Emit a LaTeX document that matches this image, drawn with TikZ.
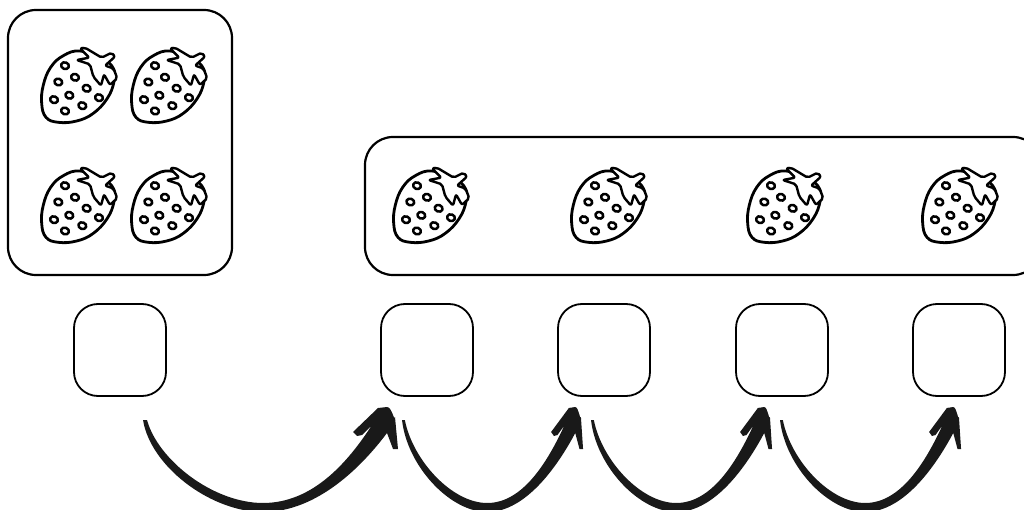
\documentclass[tikz,border=0pt]{standalone}
\usepackage{tikz}
\usetikzlibrary{calc}
\tikzset{
  crate/.style={draw,line width=2.2pt,rounded corners=28pt,inner sep=0pt,outer sep=0pt},
  tallybox/.style={draw,line width=1.8pt,rounded corners=24pt,inner sep=0pt,outer sep=0pt,minimum width=92pt,minimum height=92pt},
  strawberry/.pic={
    \begin{scope}[scale=1/3,line width=2.8pt,line join=round]
      \draw plot[smooth cycle,tension=0.7] coordinates {(150,48)(100,62)(62,97)(40,150)(35,205)(48,247)(85,262)(140,258)(190,235)(232,190)(252,140)(250,100)(215,70)};
      \draw[fill=white,line width=2.4pt,rounded corners=2pt] (140,75)--(178,68)--(150,40)--(165,38)--(215,68)--(245,53)--(255,65)--(225,92)--(250,100)--(262,130)--(254,136)--(240,150)--(222,118)--(213,152)--(190,125)--(180,88)--cycle;
      \foreach \sx/\sy in {105/92,135/127,85/141,170/160,118/181,72/194,207/188,157/212,105/228}
        \draw[line width=2.5pt] (\sx,\sy) circle[x radius=12,y radius=10,rotate=-20];
    \end{scope}
  },
  hop/.pic={
    \fill[black!90!white] (0,0) -- (1,5) .. controls (12,50) and (70,92) .. (120,92)
      .. controls (175,92) and (220,45) .. (244,13)
      --(250,29)--(255,29)--(252,-3)
      to[out=-100,in=0] (244,-13)--(235,-12)--(210,12)--(214,16)--(219,15)--(229,5)
      .. controls (205,42) and (170,83) .. (120,83)
      .. controls (70,83) and (15,40) .. (4,0) --cycle;
  }
}
\begin{document}
\begin{tikzpicture}[x=1pt,y=-1pt]
  \useasboundingbox (0,0) rectangle (1024,510);
  % sets of fruit
  \node[crate,minimum width=224pt,minimum height=265pt] (crateA) at (120,142.5) {};
  \node[crate,minimum width=676pt,minimum height=138pt] (crateB) at (703,206) {};
  \foreach \fx/\fy in {30/35,120/35,30/155,120/155,382/155,560/155,736/155,911/155}
    \pic at (\fx,\fy) {strawberry};
  % boxes to fill in
  \node[tallybox] (tallyA) at (120,350) {};
  \node[tallybox] (tallyB) at (427,350) {};
  \node[tallybox] (tallyC) at (604,350) {};
  \node[tallybox] (tallyD) at (782,350) {};
  \node[tallybox] (tallyE) at (959,350) {};
  % jumps
  \pic at ($(tallyA.south)+(23,24)$) {hop};
  \pic[xscale=0.71] at ($(tallyB.south)+(-25,24)$) {hop};
  \pic[xscale=0.71] at ($(tallyC.south)+(-13,24)$) {hop};
  \pic[xscale=0.71] at ($(tallyD.south)+(-2,24)$) {hop};
\end{tikzpicture}
\end{document}
